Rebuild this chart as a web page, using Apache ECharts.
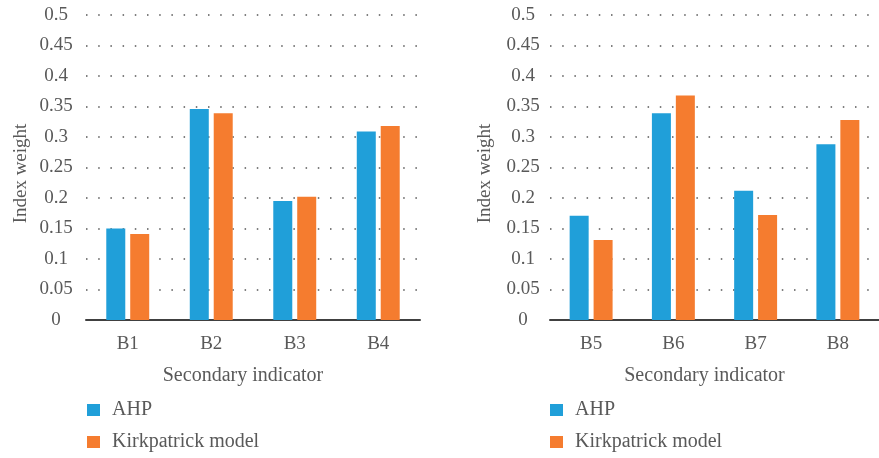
<!DOCTYPE html>
<html>
<head>
<meta charset="utf-8">
<script src="https://cdn.jsdelivr.net/npm/echarts@6/dist/echarts.min.js"></script>
<style>
  html, body { margin: 0; padding: 0; background: #fff; }
  #chart { width: 879px; height: 458px; }
</style>
</head>
<body>
<div id="chart"></div>
<script>
var leftCats = ['B1', 'B2', 'B3', 'B4'];
var rightCats = ['B5', 'B6', 'B7', 'B8'];
var leftAhp = [0.150, 0.346, 0.195, 0.309];
var leftKirk = [0.141, 0.339, 0.202, 0.318];
var rightAhp = [0.171, 0.339, 0.212, 0.288];
var rightKirk = [0.131, 0.368, 0.172, 0.328];
var yTicks = [0, 0.05, 0.1, 0.15, 0.2, 0.25, 0.3, 0.35, 0.4, 0.45, 0.5];

var font = '"Liberation Serif", "DejaVu Serif", serif';
var grey = '#595959';
var blue = '#209FD9';
var orange = '#F57C2F';

function xAxisFor(idx, cats) {
    return {
        type: 'category',
        gridIndex: idx,
        data: cats,
        name: 'Secondary indicator',
        nameLocation: 'middle',
        nameGap: 46,
        nameTextStyle: { fontFamily: font, fontSize: 20, color: grey, padding: [0, 20, 0, 0] },
        axisLine: { lineStyle: { color: '#404040', width: 2 } },
        axisTick: { show: false },
        axisLabel: { fontFamily: font, fontSize: 19, color: grey, margin: 15 },
        splitLine: { show: false }
    };
}

function yAxisFor(idx, margin) {
    return {
        type: 'value',
        gridIndex: idx,
        min: yTicks[0],
        max: yTicks[yTicks.length - 1],
        interval: 0.05,
        name: 'Index weight',
        nameLocation: 'middle',
        nameGap: 55,
        nameTextStyle: { fontFamily: font, fontSize: 19, color: grey, padding: [0, 12, 0, 0] },
        axisLine: { show: false },
        axisTick: { show: false },
        axisLabel: {
            fontFamily: font, fontSize: 19, color: grey, margin: margin, align: 'center',
            formatter: function (v) { return String(Math.round(v * 100) / 100); }
        },
        splitLine: { lineStyle: { color: '#555', width: 1.5, type: [1.5, 10.7] } }
    };
}

function legendFor(left) {
    return {
        orient: 'vertical',
        left: left,
        top: 400,
        padding: 0,
        itemWidth: 13,
        itemHeight: 12,
        itemGap: 12,
        icon: 'rect',
        data: ['AHP', 'Kirkpatrick model'],
        textStyle: { fontFamily: font, fontSize: 20, lineHeight: 20, color: grey, padding: [0, 0, 0, 7] }
    };
}

function barFor(name, idx, data, color) {
    return {
        name: name,
        type: 'bar',
        xAxisIndex: idx,
        yAxisIndex: idx,
        data: data,
        barWidth: 19,
        barGap: '26%',
        itemStyle: { color: color }
    };
}

var myChart = echarts.init(document.getElementById('chart'));

var option = {
    animation: false,
    grid: [
        { left: 86, top: 15, width: 334, height: 305 },
        { left: 550, top: 15, width: 336, height: 305 }
    ],
    legend: [legendFor(87), legendFor(550)],
    xAxis: [xAxisFor(0, leftCats), xAxisFor(1, rightCats)],
    yAxis: [yAxisFor(0, 30), yAxisFor(1, 27)],
    series: [
        barFor('AHP', 0, leftAhp, blue),
        barFor('Kirkpatrick model', 0, leftKirk, orange),
        barFor('AHP', 1, rightAhp, blue),
        barFor('Kirkpatrick model', 1, rightKirk, orange)
    ]
};

myChart.setOption(option);
</script>
</body>
</html>
